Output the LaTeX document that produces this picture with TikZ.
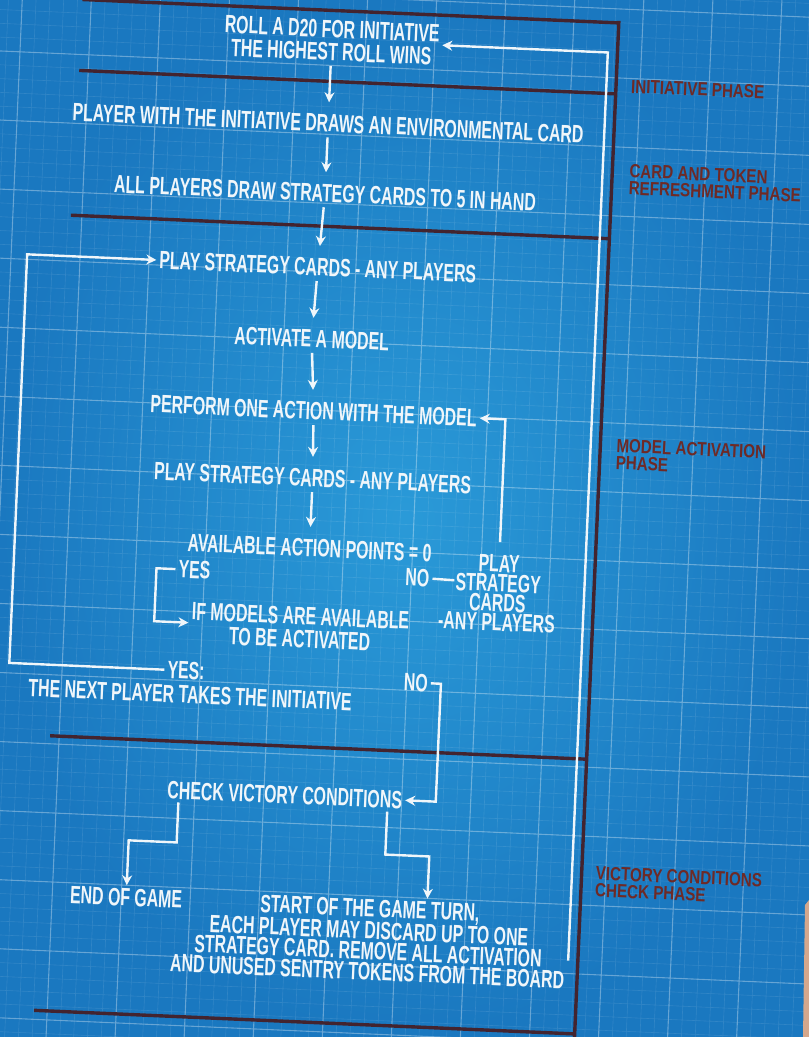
\documentclass[tikz,border=0pt]{standalone}
\usepackage{fontspec}
\usepackage{tikz}
\usetikzlibrary{arrows.meta,calc}
\newfontfamily\planfont[FakeStretch=0.635]{Liberation Sans}
\newfontfamily\phasefont[FakeStretch=0.8]{Liberation Sans}
\definecolor{blueprint}{HTML}{1A78C0}
\definecolor{glow}{HTML}{2A9AD8}
\definecolor{chalk}{HTML}{F0F6FA}
\definecolor{maroon}{HTML}{43242F}
\definecolor{rust}{HTML}{6E2A26}
\definecolor{desk}{HTML}{D4A78C}

\begin{document}
\begin{tikzpicture}[x=1pt,y=-1pt,
    txt/.style={text=chalk,font=\planfont\bfseries\fontsize{25}{23}\selectfont,align=center,inner sep=3pt},
    phase/.style={text=rust,font=\phasefont\bfseries\fontsize{19}{17}\selectfont,align=left,anchor=west,inner sep=0pt},
    wire/.style={draw=chalk,line width=2.4pt},
    arr/.style={wire,-{Stealth[length=10pt,width=10pt]}},
    chain/.style={arr,shorten <=2pt,shorten >=9pt},
    divider/.style={draw=maroon,line width=3.4pt},
    gridminor/.style={draw=white,opacity=0.1,line width=0.6pt},
    gridmajor/.style={draw=white,opacity=0.28,line width=1.1pt}]
  \useasboundingbox (0,0) rectangle (809,1037);
  \shade[inner color=glow,outer color=blueprint] (0,0) rectangle (809,1037);
  \begin{scope}
    \clip (0,0) rectangle (809,1037);
    \begin{scope}[transform canvas={rotate around={-2.5:(404,518)}}]
      % blueprint grid
      \draw[gridminor] (-60,1100) grid[step=13.8pt] (870,-60);
      \draw[gridmajor] (-60,1100) grid[step=69pt] (870,-60);
      % phase dividers
      \draw[divider] (60,14) -- (597,14);
      \draw[divider] (60,85) -- (597,85);
      \draw[divider] (58,230) -- (597,230);
      \draw[divider] (60,751) -- (597,751);
      \draw[divider] (56,1026) -- (597,1026);
      \draw[divider] (597,12) -- (597,1080);
      % phase names
      \node[phase] (ph1) at (612,77) {INITIATIVE PHASE};
      \node[phase] (ph2) at (614,170) {CARD AND TOKEN\\REFRESHMENT PHASE};
      \node[phase] (ph3) at (613,445) {MODEL ACTIVATION\\PHASE};
      \node[phase] (ph4) at (611,873) {VICTORY CONDITIONS\\CHECK PHASE};
      % steps
      \node[txt] (roll) at (311,44) {ROLL A D20 FOR INITIATIVE\\THE HIGHEST ROLL WINS};
      \node[txt] (envcard) at (311,127) {PLAYER WITH THE INITIATIVE DRAWS AN ENVIRONMENTAL CARD};
      \node[txt] (drawcards) at (311,197) {ALL PLAYERS DRAW STRATEGY CARDS TO 5 IN HAND};
      \node[txt] (play1) at (307,271) {PLAY STRATEGY CARDS - ANY PLAYERS};
      \node[txt] (activate) at (304,343) {ACTIVATE A MODEL};
      \node[txt] (action) at (309,415) {PERFORM ONE ACTION WITH THE MODEL};
      \node[txt] (play2) at (311,482) {PLAY STRATEGY CARDS - ANY PLAYERS};
      \node[txt] (points) at (311,552) {AVAILABLE ACTION POINTS = 0};
      \node[txt] (yes1) at (197,579) {YES};
      \node[txt] (models) at (305,632) {IF MODELS ARE AVAILABLE\\TO BE ACTIVATED};
      \node[txt] (no1) at (420,577) {NO};
      \node[txt,font=\planfont\bfseries\fontsize{25}{19.5}\selectfont] (playno) at (501,589) {PLAY\\STRATEGY\\CARDS\\-ANY PLAYERS};
      \node[txt] (yes2) at (193,680) {YES:};
      \node[txt] (nextp) at (198,704) {THE NEXT PLAYER TAKES THE INITIATIVE};
      \node[txt] (no2) at (423,682) {NO};
      \node[txt] (check) at (297,800) {CHECK VICTORY CONDITIONS};
      \node[txt] (endgame) at (143,909) {END OF GAME};
      \node[txt,font=\planfont\bfseries\fontsize{25}{20.5}\selectfont] (newturn) at (387,941) {START OF THE GAME TURN,\\EACH PLAYER MAY DISCARD UP TO ONE\\STRATEGY CARD. REMOVE ALL ACTIVATION\\AND UNUSED SENTRY TOKENS FROM THE BOARD};
      \coordinate (dash) at (457,578);
      \coordinate (back) at (16,271);
      % flow
      \draw[chain] (roll) -- (envcard);
      \draw[chain] (envcard) -- (drawcards);
      \draw[chain] (drawcards) -- (play1);
      \draw[chain] (play1) -- (activate);
      \draw[chain] (activate) -- (action);
      \draw[chain] (action) -- (play2);
      \draw[chain] (play2) -- (points);
      \draw[arr] (yes1.west) -- ++(-19,0) |- (models.west);
      \draw[wire] (no1) -- (dash);
      \draw[arr] ([yshift=10pt]playno.north) |- (action.east);
      \draw[arr] (yes2.west) -| (back) -- (play1.west);
      \draw[arr] (no2.east) -- ++(10,0) |- (check.east);
      \draw[arr] ([xshift=-106pt]check.south) -- ++(0,40) -| (endgame.north);
      \draw[arr] ([xshift=103pt]check.south) -- ++(0,43) -| ([xshift=57pt]newturn.north);
      \draw[arr] ([yshift=-12pt]newturn.east) |- (roll.east);
    \end{scope}
  \end{scope}
  \fill[desk] (805,905) -- (809,900) -- (809,1037) -- (803,1037) -- cycle;
\end{tikzpicture}
\end{document}
